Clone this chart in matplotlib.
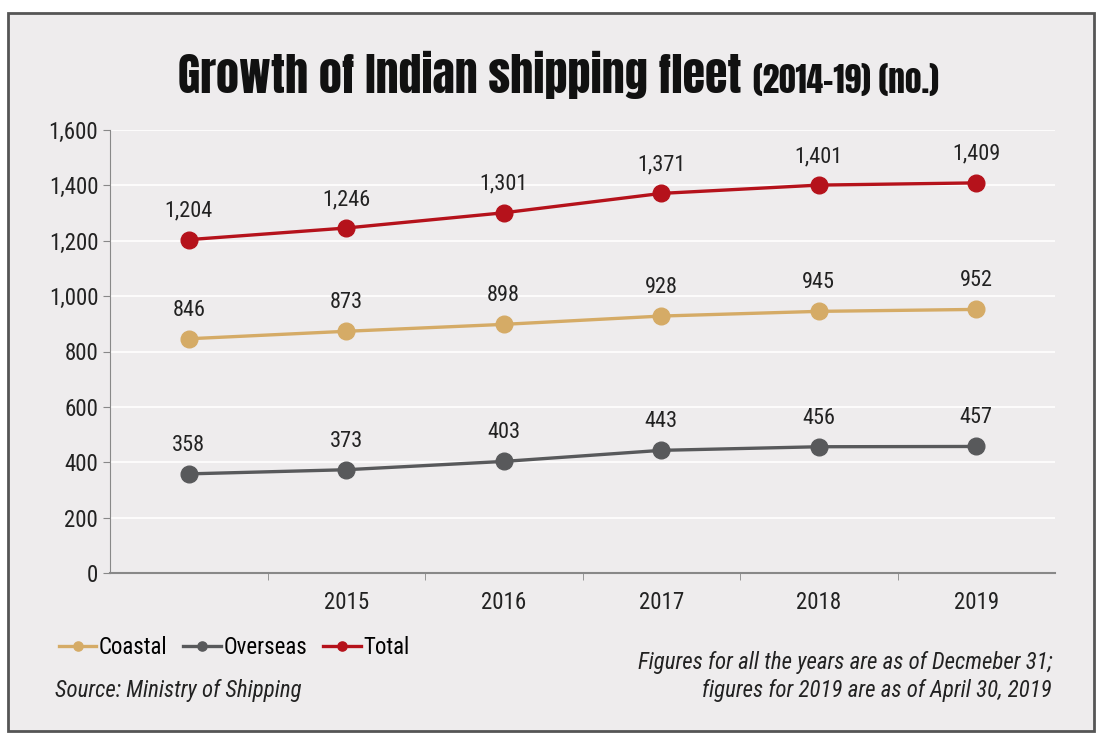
import matplotlib.pyplot as plt
from matplotlib.patches import Rectangle

years = ["2014", "2015", "2016", "2017", "2018", "2019"]
tick_labels = ["", "2015", "2016", "2017", "2018", "2019"]
coastal = [846, 873, 898, 928, 945, 952]
overseas = [358, 373, 403, 443, 456, 457]
total = [1204, 1246, 1301, 1371, 1401, 1409]

FONT = ["Roboto Condensed", "DejaVu Sans"]
TITLE_FONT = ["Anton", "DejaVu Sans"]
BG = "#eeeced"
TXT = "#222222"
FS = 16.5
plt.rcParams["font.family"] = FONT

fig = plt.figure(figsize=(11.08, 7.44), dpi=100)
fig.patch.set_facecolor("white")
fig.patches.append(Rectangle((8 / 1108, 1 - 731 / 744), 1086 / 1108, 718 / 744,
                             transform=fig.transFigure, facecolor=BG,
                             edgecolor="#555555", lw=2, zorder=-1))

ax = fig.add_axes([110 / 1108, 1 - 573 / 744, 945 / 1108, 443 / 744])
ax.set_facecolor(BG)

x = list(range(len(years)))
series = [("Coastal", coastal, "#d5ab66"),
          ("Overseas", overseas, "#58595b"),
          ("Total", total, "#b5121b")]
for name, vals, col in series:
    ax.plot(x, vals, color=col, lw=2.4, marker="o", markersize=12, label=name,
            zorder=3)
    for xi, v in zip(x, vals):
        ax.annotate(f"{v:,}", (xi, v), xytext=(0, 13), textcoords="offset points",
                    ha="center", va="bottom", fontsize=16, color=TXT)

ax.set_xlim(-0.5, 5.5)
ax.set_ylim(0, 1600)
ax.set_yticks(range(0, 1601, 200))
ax.set_yticklabels([f"{v:,}" for v in range(0, 1601, 200)], fontsize=FS,
                   color=TXT)
ax.yaxis.grid(True, color="white", lw=1.2)
ax.set_axisbelow(True)
ax.set_xticks(x)
ax.set_xticklabels(tick_labels, fontsize=FS, color=TXT)
ax.tick_params(axis="x", length=0, pad=13)
ax.set_xticks([i + 0.5 for i in x[:-1]], minor=True)
ax.tick_params(axis="x", which="minor", length=5, color="#888888")
ax.tick_params(axis="y", length=5, color="#888888")
for s in ["top", "right"]:
    ax.spines[s].set_visible(False)
ax.spines["left"].set_color("#888888")
ax.spines["bottom"].set_color("#888888")
ax.spines["bottom"].set_linewidth(1.5)

fig.text(178 / 1108, 1 - 93 / 744, "Growth of Indian shipping fleet", ha="left",
         va="baseline", fontsize=33, family=TITLE_FONT, color="#111111")
fig.text(753 / 1108, 1 - 93 / 744, "(2014-19) (no.)", ha="left", va="baseline",
         fontsize=24, family=TITLE_FONT, color="#111111")

fig.legend(loc="center left", bbox_to_anchor=(38 / 1108, 1 - 648 / 744),
           ncol=3, frameon=False, fontsize=FS, handlelength=1.65,
           handletextpad=0.1, columnspacing=0.7, markerscale=0.55)

fig.text(55 / 1108, 1 - 690 / 744, "Source: Ministry of Shipping", ha="left",
         va="center", fontsize=FS, style="italic", color=TXT)
fig.text(1052 / 1108, 1 - 662 / 744, "Figures for all the years are as of Decmeber 31;",
         ha="right", va="center", fontsize=FS, style="italic", color=TXT)
fig.text(1052 / 1108, 1 - 690 / 744, "figures for 2019 are as of April 30, 2019",
         ha="right", va="center", fontsize=FS, style="italic", color=TXT)

fig.savefig("out.png", dpi=100)
